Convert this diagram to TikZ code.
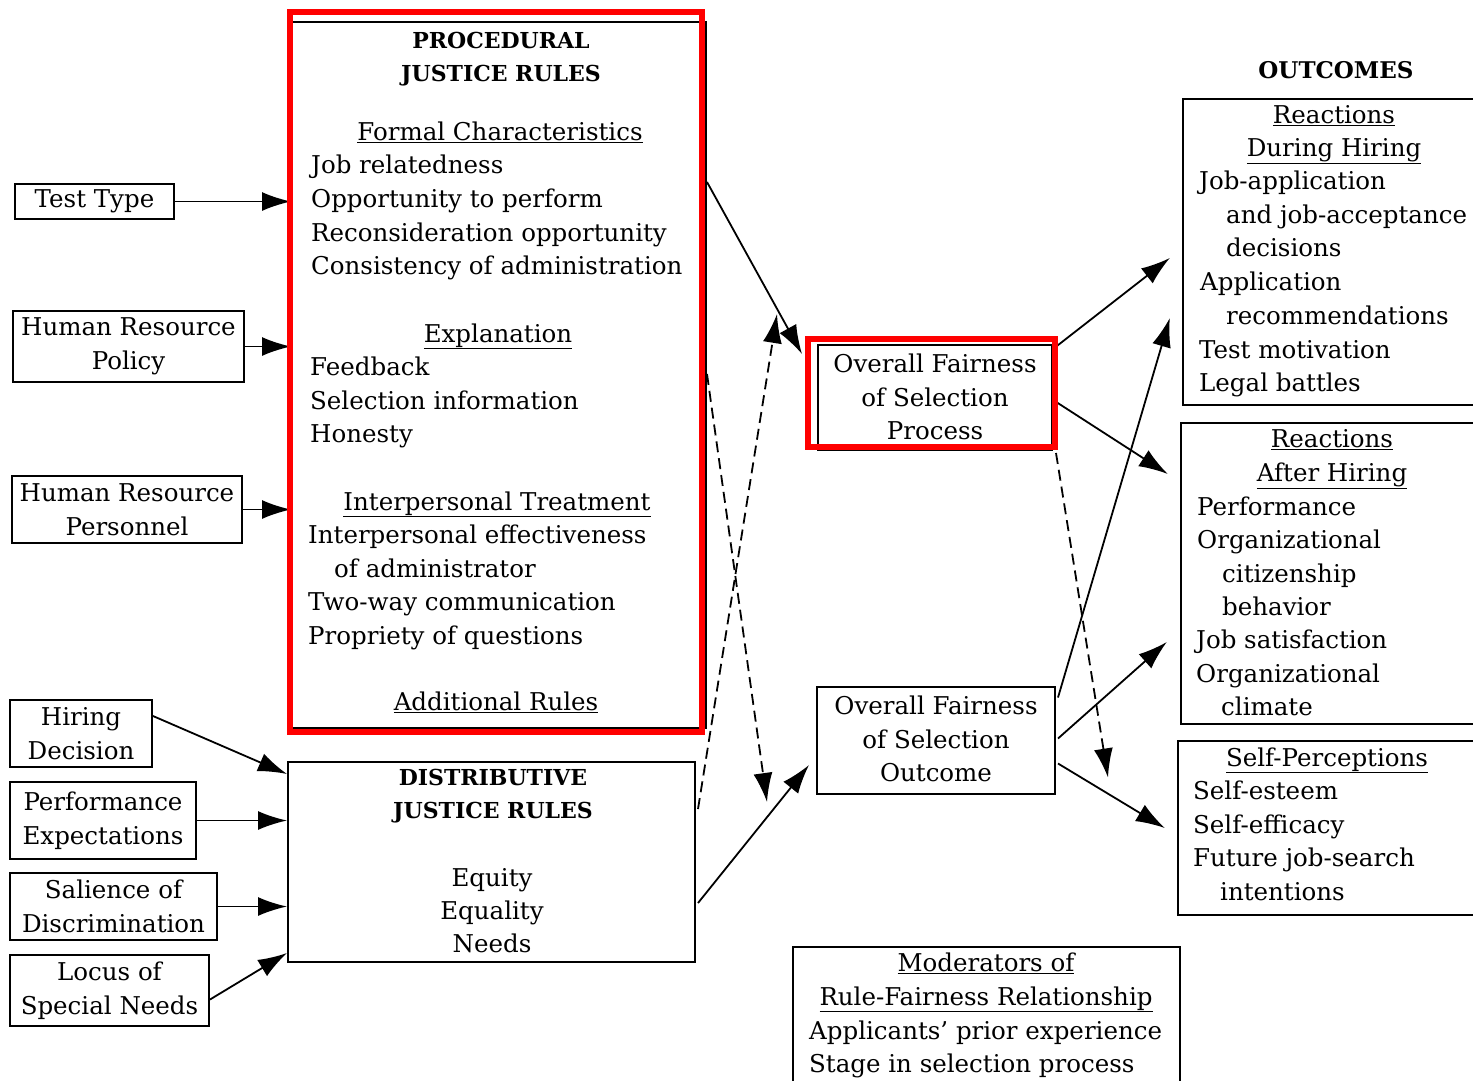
\documentclass[tikz,border=0pt]{standalone}
\usepackage{fontspec}
\setmainfont{DejaVu Serif}
\usetikzlibrary{arrows.meta,calc}
\newcommand\bodyfnt{\fontsize{24.5}{33.5}\selectfont}
\newcommand\headfnt{\fontsize{22}{33}\selectfont\bfseries}
\begin{document}
\begin{tikzpicture}[x=1pt,y=-1pt,
 box/.style={draw, line width=2pt, inner sep=2pt, align=center, font=\bodyfnt},
 area/.style={inner sep=0pt},
 txt/.style={inner sep=0pt, font=\bodyfnt, anchor=base west},
 ctxt/.style={inner sep=0pt, font=\bodyfnt, anchor=base},
 headtxt/.style={inner sep=0pt, font=\headfnt, anchor=base},
 arr/.style={line width=1.8pt, -{Latex[length=29pt,width=19pt]}},
 darr/.style={arr, dash pattern=on 11pt off 6pt},
 hl/.style={draw=red, line width=6pt}]
\useasboundingbox (0,0) rectangle (1473,1080);

% ---------- left input boxes ----------
\node[box, minimum width=159, minimum height=35] (tt) at (94.5,201.5) {Test Type};
\node[box, minimum width=231, minimum height=71] (hrpol) at (128.5,346.5) {Human Resource\\Policy};
\node[box, minimum width=230, minimum height=67] (hrper) at (127,509.5) {Human Resource\\Personnel};
\node[box, minimum width=142, minimum height=67] (hire) at (81,733.5) {Hiring\\Decision};
\node[box, minimum width=186, minimum height=77] (perf) at (103,820.5) {Performance\\Expectations};
\node[box, minimum width=207, minimum height=67] (sal) at (113.5,906.5) {Salience of\\Discrimination};
\node[box, minimum width=199, minimum height=71] (loc) at (109.5,990.5) {Locus of\\Special Needs};

% ---------- procedural box ----------
\node[box, minimum width=414, minimum height=706] (proc) at (499,375) {};
\node[headtxt] (p0a) at (501,48) {PROCEDURAL};
\node[headtxt] (p0b) at (501,81) {JUSTICE RULES};
\node[ctxt] (p1h) at (500,140) {\underline{Formal Characteristics}};
\node[txt] (p11) at (311,173) {Job relatedness};
\node[txt] (p12) at (311,207) {Opportunity to perform};
\node[txt] (p13) at (311,241) {Reconsideration opportunity};
\node[txt] (p14) at (311,274) {Consistency of administration};
\node[ctxt] (p2h) at (498,342) {\underline{Explanation}};
\node[txt] (p21) at (310,375) {Feedback};
\node[txt] (p22) at (310,409) {Selection information};
\node[txt] (p23) at (310,442) {Honesty};
\node[ctxt] (p3h) at (497,510) {\underline{Interpersonal Treatment}};
\node[txt] (p31) at (308,543) {Interpersonal effectiveness};
\node[txt] (p32) at (334,577) {of administrator};
\node[txt] (p33) at (308,610) {Two-way communication};
\node[txt] (p34) at (308,644) {Propriety of questions};
\node[ctxt] (p4h) at (496,710) {\underline{Additional Rules}};

% ---------- distributive box ----------
\node[box, minimum width=407, minimum height=200] (dist) at (491.5,862) {};
\node[headtxt] (d0a) at (493,785) {DISTRIBUTIVE};
\node[headtxt] (d0b) at (493,818) {JUSTICE RULES};
\node[ctxt] (d1) at (492,886) {Equity};
\node[ctxt] (d2) at (492,919) {Equality};
\node[ctxt] (d3) at (492,952) {Needs};

% ---------- fairness boxes ----------
\node[box, minimum width=234, minimum height=105] (fproc) at (935,397.5) {};
\node[ctxt] (f1) at (935,372) {Overall Fairness};
\node[ctxt] (f2) at (935,406) {of Selection};
\node[ctxt] (f3) at (935,439) {Process};
\node[box, minimum width=238, minimum height=107] (fout) at (936,740.5) {};
\node[ctxt] (g1) at (936,714) {Overall Fairness};
\node[ctxt] (g2) at (936,748) {of Selection};
\node[ctxt] (g3) at (936,781) {Outcome};

% ---------- outcomes ----------
\node[headtxt, font=\fontsize{23}{33}\selectfont\bfseries] (otitle) at (1336,78) {OUTCOMES};
\node[area, minimum width=290, minimum height=306] (dh) at (1328,252) {};
\draw[line width=2pt] (dh.north east) -- (dh.north west) -- (dh.south west) -- (dh.south east);
\node[ctxt] (dh0a) at (1334,123) {\underline{Reactions}};
\node[ctxt] (dh0b) at (1334,156) {\underline{During Hiring}};
\node[txt] (dh1) at (1199,189) {Job-application};
\node[txt] (dh2) at (1226,223) {and job-acceptance};
\node[txt] (dh3) at (1226,256) {decisions};
\node[txt] (dh4) at (1200,290) {Application};
\node[txt] (dh5) at (1226,324) {recommendations};
\node[txt] (dh6) at (1199,358) {Test motivation};
\node[txt] (dh7) at (1199,391) {Legal battles};

\node[area, minimum width=292, minimum height=301] (ah) at (1327,573.5) {};
\draw[line width=2pt] (ah.north east) -- (ah.north west) -- (ah.south west) -- (ah.south east);
\node[ctxt] (ah0a) at (1332,447) {\underline{Reactions}};
\node[ctxt] (ah0b) at (1332,481) {\underline{After Hiring}};
\node[txt] (ah1) at (1197,515) {Performance};
\node[txt] (ah2) at (1197,548) {Organizational};
\node[txt] (ah3) at (1222,582) {citizenship};
\node[txt] (ah4) at (1222,615) {behavior};
\node[txt] (ah5) at (1196,648) {Job satisfaction};
\node[txt] (ah6) at (1196,682) {Organizational};
\node[txt] (ah7) at (1221,715) {climate};

\node[area, minimum width=295, minimum height=174] (sp) at (1325.5,828) {};
\draw[line width=2pt] (sp.north east) -- (sp.north west) -- (sp.south west) -- (sp.south east);
\node[ctxt] (sp0) at (1327,766) {\underline{Self-Perceptions}};
\node[txt] (sp1) at (1193,799) {Self-esteem};
\node[txt] (sp2) at (1193,833) {Self-efficacy};
\node[txt] (sp3) at (1193,866) {Future job-search};
\node[txt] (sp4) at (1220,900) {intentions};

% ---------- moderators ----------
\node[area, minimum width=387, minimum height=135] (mod) at (986.5,1014.5) {};
\draw[line width=2pt] (mod.south west) -- (mod.north west) -- (mod.north east) -- (mod.south east);
\node[ctxt] (m0a) at (986,971) {\underline{Moderators of}};
\node[ctxt] (m0b) at (986,1005) {\underline{Rule-Fairness Relationship}};
\node[txt] (m1) at (809,1039) {Applicants’ prior experience};
\node[txt] (m2) at (809,1072) {Stage in selection process};

% ---------- connectors ----------
\draw[arr] (tt.east) -- (proc.west |- tt.east);
\draw[arr] (hrpol.east) -- (proc.west |- hrpol.east);
\draw[arr] (hrper.east) -- (proc.west |- hrper.east);
\draw[arr] ($(hire.north east)+(0,17)$) -- ($(dist.north west)+(0,13)$);
\draw[arr] (perf.east) -- (dist.west |- perf.east);
\draw[arr] (sal.east) -- (dist.west |- sal.east);
\draw[arr] ($(loc.east)+(0,9)$) -- ($(dist.south west)+(0,-10)$);

\draw[arr] ($(proc.north east)+(0,161)$) -- ($(fproc.north west)+(-15,10)$);
\draw[arr] ($(dist.east)+(2,41)$) -- ($(fout.west)+(-7,24.5)$);
\draw[darr] ($(proc.north east)+(0,353)$) -- ($(fout.west)+(-49,61.5)$);
\draw[darr] ($(dist.north east)+(2,48)$) -- ($(fproc.north west)+(-40,-30)$);

\draw[arr] ($(fproc.north east)+(0,5)$) -- ($(dh.west)+(-13,6)$);
\draw[arr] ($(fproc.east)+(4,5)$) -- ($(ah.west)+(-13,-99.5)$);
\draw[darr] ($(fproc.south east)+(3,2)$) -- ($(fout.east)+(52,37)$);
\draw[arr] ($(fout.east)+(2,-43)$) -- ($(dh.west)+(-13,66)$);
\draw[arr] ($(fout.east)+(2,-2)$) -- ($(ah.west)+(-14,68.5)$);
\draw[arr] ($(fout.east)+(2,23)$) -- ($(sp.west)+(-13,0)$);

% ---------- red highlights ----------
\draw[hl] (290,12) rectangle (702,732);
\draw[hl] (808,339) rectangle (1055,447);
\end{tikzpicture}
\end{document}
